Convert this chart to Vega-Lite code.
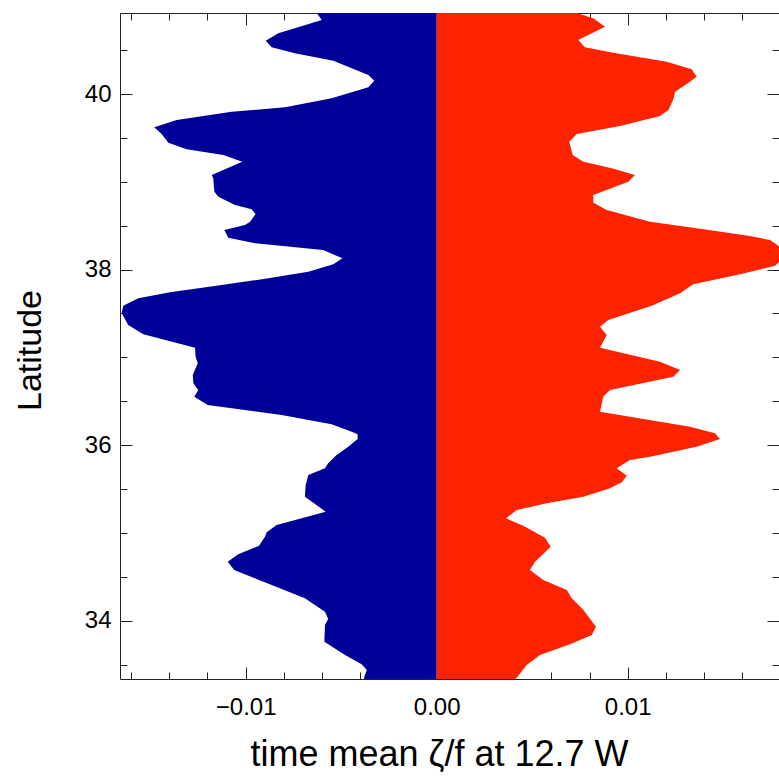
{
  "$schema": "https://vega.github.io/schema/vega-lite/v6.json",
  "autosize": "none",
  "width": 659,
  "height": 666,
  "padding": {"left": 120, "top": 13, "right": 0, "bottom": 99},
  "background": "white",
  "config": {
    "view": {"stroke": null},
    "axis": {
      "labelFont": "Liberation Sans",
      "labelFontSize": 24,
      "labelColor": "black",
      "titleFont": "Liberation Sans",
      "titleFontSize": 36,
      "titleFontWeight": "normal",
      "titleColor": "black",
      "domainColor": "#222222",
      "domainWidth": 1,
      "tickColor": "#222222",
      "tickWidth": 1,
      "grid": false,
      "zindex": 1
    }
  },
  "datasets": {
    "neg": [
      {"lat": 40.923, "v": -0.00628}, {"lat": 40.843, "v": -0.00602}, {"lat": 40.692, "v": -0.00829},
      {"lat": 40.607, "v": -0.00895}, {"lat": 40.532, "v": -0.00864}, {"lat": 40.464, "v": -0.00742},
      {"lat": 40.379, "v": -0.00541}, {"lat": 40.216, "v": -0.00358}, {"lat": 40.152, "v": -0.00327},
      {"lat": 40.076, "v": -0.00358}, {"lat": 39.951, "v": -0.0055}, {"lat": 39.848, "v": -0.00794},
      {"lat": 39.798, "v": -0.01073}, {"lat": 39.704, "v": -0.01361}, {"lat": 39.621, "v": -0.01479},
      {"lat": 39.544, "v": -0.0144}, {"lat": 39.445, "v": -0.01405}, {"lat": 39.37, "v": -0.01309},
      {"lat": 39.305, "v": -0.01117}, {"lat": 39.229, "v": -0.01018}, {"lat": 39.077, "v": -0.01178},
      {"lat": 39.04, "v": -0.0117}, {"lat": 38.887, "v": -0.01164}, {"lat": 38.83, "v": -0.01143},
      {"lat": 38.735, "v": -0.01056}, {"lat": 38.686, "v": -0.00969}, {"lat": 38.633, "v": -0.00948},
      {"lat": 38.545, "v": -0.00977}, {"lat": 38.508, "v": -0.01004}, {"lat": 38.451, "v": -0.01112},
      {"lat": 38.363, "v": -0.01091}, {"lat": 38.299, "v": -0.00951}, {"lat": 38.223, "v": -0.00594},
      {"lat": 38.128, "v": -0.00494}, {"lat": 38.06, "v": -0.00541}, {"lat": 37.976, "v": -0.00672},
      {"lat": 37.9, "v": -0.00882}, {"lat": 37.824, "v": -0.01126}, {"lat": 37.741, "v": -0.01396},
      {"lat": 37.673, "v": -0.01562}, {"lat": 37.588, "v": -0.01641}, {"lat": 37.502, "v": -0.01649},
      {"lat": 37.368, "v": -0.01615}, {"lat": 37.262, "v": -0.01536}, {"lat": 37.11, "v": -0.01265},
      {"lat": 37.007, "v": -0.01262}, {"lat": 36.932, "v": -0.01251}, {"lat": 36.799, "v": -0.01277},
      {"lat": 36.704, "v": -0.01274}, {"lat": 36.628, "v": -0.01248}, {"lat": 36.552, "v": -0.01269},
      {"lat": 36.457, "v": -0.01199}, {"lat": 36.343, "v": -0.00812}, {"lat": 36.237, "v": -0.0055},
      {"lat": 36.153, "v": -0.00445}, {"lat": 36.123, "v": -0.00414}, {"lat": 36.07, "v": -0.00414},
      {"lat": 35.982, "v": -0.00463}, {"lat": 35.887, "v": -0.00524}, {"lat": 35.793, "v": -0.00568},
      {"lat": 35.736, "v": -0.00585}, {"lat": 35.66, "v": -0.00672}, {"lat": 35.546, "v": -0.00686},
      {"lat": 35.412, "v": -0.0069}, {"lat": 35.242, "v": -0.00581}, {"lat": 35.09, "v": -0.00838},
      {"lat": 35.007, "v": -0.0089}, {"lat": 34.957, "v": -0.00899}, {"lat": 34.854, "v": -0.0093},
      {"lat": 34.756, "v": -0.01039}, {"lat": 34.672, "v": -0.01094}, {"lat": 34.577, "v": -0.0106},
      {"lat": 34.407, "v": -0.00864}, {"lat": 34.255, "v": -0.0069}, {"lat": 34.102, "v": -0.00585},
      {"lat": 34.019, "v": -0.00568}, {"lat": 33.951, "v": -0.00585}, {"lat": 33.761, "v": -0.00588},
      {"lat": 33.609, "v": -0.0048}, {"lat": 33.503, "v": -0.00393}, {"lat": 33.438, "v": -0.00366},
      {"lat": 33.362, "v": -0.00379}, {"lat": 33.336, "v": -0.0038}
    ],
    "pos": [
      {"lat": 40.923, "v": 0.00733}, {"lat": 40.862, "v": 0.0082}, {"lat": 40.767, "v": 0.00881},
      {"lat": 40.615, "v": 0.00741}, {"lat": 40.532, "v": 0.00776}, {"lat": 40.47, "v": 0.00925},
      {"lat": 40.368, "v": 0.01204}, {"lat": 40.281, "v": 0.01335}, {"lat": 40.197, "v": 0.01361},
      {"lat": 40.114, "v": 0.01309}, {"lat": 40.026, "v": 0.01248}, {"lat": 39.94, "v": 0.01239},
      {"lat": 39.818, "v": 0.01213}, {"lat": 39.749, "v": 0.01169}, {"lat": 39.635, "v": 0.0096},
      {"lat": 39.544, "v": 0.00733}, {"lat": 39.457, "v": 0.00694}, {"lat": 39.305, "v": 0.00712},
      {"lat": 39.229, "v": 0.00768}, {"lat": 39.154, "v": 0.00916}, {"lat": 39.077, "v": 0.01038},
      {"lat": 39.001, "v": 0.01003}, {"lat": 38.849, "v": 0.0082}, {"lat": 38.762, "v": 0.0082},
      {"lat": 38.679, "v": 0.0089}, {"lat": 38.545, "v": 0.01117}, {"lat": 38.47, "v": 0.01361},
      {"lat": 38.382, "v": 0.0164}, {"lat": 38.337, "v": 0.01745}, {"lat": 38.27, "v": 0.0179},
      {"lat": 38.17, "v": 0.0183}, {"lat": 38.08, "v": 0.0179}, {"lat": 38.044, "v": 0.01771},
      {"lat": 37.946, "v": 0.01588}, {"lat": 37.832, "v": 0.01343}, {"lat": 37.73, "v": 0.01274},
      {"lat": 37.588, "v": 0.01126}, {"lat": 37.425, "v": 0.00898}, {"lat": 37.349, "v": 0.00855},
      {"lat": 37.254, "v": 0.0089}, {"lat": 37.11, "v": 0.00855}, {"lat": 36.95, "v": 0.01169},
      {"lat": 36.856, "v": 0.01274}, {"lat": 36.779, "v": 0.01239}, {"lat": 36.628, "v": 0.00907},
      {"lat": 36.552, "v": 0.00872}, {"lat": 36.381, "v": 0.00855}, {"lat": 36.21, "v": 0.01326},
      {"lat": 36.135, "v": 0.01457}, {"lat": 36.07, "v": 0.01483}, {"lat": 35.982, "v": 0.01361},
      {"lat": 35.868, "v": 0.01117}, {"lat": 35.83, "v": 0.01012}, {"lat": 35.736, "v": 0.00942},
      {"lat": 35.652, "v": 0.00995}, {"lat": 35.576, "v": 0.00969}, {"lat": 35.508, "v": 0.00907},
      {"lat": 35.412, "v": 0.00768}, {"lat": 35.337, "v": 0.00576}, {"lat": 35.261, "v": 0.00419},
      {"lat": 35.166, "v": 0.00363}, {"lat": 35.082, "v": 0.00453}, {"lat": 34.945, "v": 0.00567},
      {"lat": 34.843, "v": 0.00597}, {"lat": 34.672, "v": 0.00515}, {"lat": 34.577, "v": 0.00488},
      {"lat": 34.463, "v": 0.00558}, {"lat": 34.349, "v": 0.00681}, {"lat": 34.255, "v": 0.00707},
      {"lat": 34.122, "v": 0.00768}, {"lat": 33.932, "v": 0.00834}, {"lat": 33.837, "v": 0.00812},
      {"lat": 33.731, "v": 0.00698}, {"lat": 33.609, "v": 0.00541}, {"lat": 33.495, "v": 0.00471},
      {"lat": 33.35, "v": 0.00419}, {"lat": 33.336, "v": 0.0041}
    ]
  },
  "resolve": {"axis": {"x": "independent", "y": "independent"}},
  "layer": [
    {
      "data": {"name": "neg"},
      "mark": {"type": "area", "orient": "horizontal", "color": "#000099", "clip": true},
      "encoding": {
        "x": {
          "field": "v", "type": "quantitative", "stack": null,
          "scale": {"domain": [-0.01658, 0.01792], "nice": false, "zero": false},
          "axis": {
            "orient": "bottom", "values": [-0.01, 0, 0.01], "format": ".2f",
            "ticks": false, "domain": true, "labelPadding": 16,
            "title": "time mean ζ/f at 12.7 W",
            "titleX": 319, "titleY": 86, "titleBaseline": "alphabetic", "titleAlign": "center"
          }
        },
        "y": {
          "field": "lat", "type": "quantitative",
          "scale": {"domain": [33.336, 40.923], "nice": false, "zero": false},
          "axis": {
            "orient": "left", "values": [34, 36, 38, 40], "format": "d",
            "ticks": false, "domain": true, "labelPadding": 9,
            "title": "Latitude", "titleFontSize": 34,
            "titleX": -80, "titleY": 337, "titleAngle": -90, "titleBaseline": "alphabetic", "titleAlign": "center"
          }
        }
      }
    },
    {
      "data": {"name": "pos"},
      "mark": {"type": "area", "orient": "horizontal", "color": "#ff2200", "clip": true},
      "encoding": {
        "x": {
          "field": "v", "type": "quantitative", "stack": null,
          "scale": {"domain": [-0.01658, 0.01792], "nice": false, "zero": false},
          "axis": {"orient": "bottom", "values": [-0.01, 0, 0.01], "tickSize": -12, "labels": false, "domain": false, "title": null}
        },
        "y": {
          "field": "lat", "type": "quantitative",
          "scale": {"domain": [33.336, 40.923], "nice": false, "zero": false},
          "axis": {"orient": "left", "values": [34, 36, 38, 40], "tickSize": -12, "labels": false, "domain": false, "title": null}
        }
      }
    },
    {
      "data": {"name": "pos"},
      "mark": {"type": "point", "opacity": 0},
      "encoding": {
        "x": {
          "field": "v", "type": "quantitative",
          "scale": {"domain": [-0.01658, 0.01792], "nice": false, "zero": false},
          "axis": {"orient": "bottom", "values": [-0.016, -0.014, -0.012, -0.008, -0.006, -0.004, -0.002, 0.002, 0.004, 0.006, 0.008, 0.012, 0.014, 0.016], "tickSize": -7, "labels": false, "domain": false, "title": null}
        },
        "y": {
          "field": "lat", "type": "quantitative",
          "scale": {"domain": [33.336, 40.923], "nice": false, "zero": false},
          "axis": {"orient": "left", "values": [33.5, 34.5, 35, 35.5, 36.5, 37, 37.5, 38.5, 39, 39.5, 40.5], "tickSize": -7, "labels": false, "domain": false, "title": null}
        }
      }
    },
    {
      "data": {"name": "pos"},
      "mark": {"type": "point", "opacity": 0},
      "encoding": {
        "x": {
          "field": "v", "type": "quantitative",
          "scale": {"domain": [-0.01658, 0.01792], "nice": false, "zero": false},
          "axis": {"orient": "top", "values": [-0.01, 0, 0.01], "tickSize": -12, "labels": false, "domain": true, "title": null}
        },
        "y": {
          "field": "lat", "type": "quantitative",
          "scale": {"domain": [33.336, 40.923], "nice": false, "zero": false},
          "axis": {"orient": "right", "values": [34, 36, 38, 40], "tickSize": -12, "labels": false, "domain": true, "title": null}
        }
      }
    },
    {
      "data": {"name": "pos"},
      "mark": {"type": "point", "opacity": 0},
      "encoding": {
        "x": {
          "field": "v", "type": "quantitative",
          "scale": {"domain": [-0.01658, 0.01792], "nice": false, "zero": false},
          "axis": {"orient": "top", "values": [-0.016, -0.014, -0.012, -0.008, -0.006, -0.004, -0.002, 0.002, 0.004, 0.006, 0.008, 0.012, 0.014, 0.016], "tickSize": -7, "labels": false, "domain": false, "title": null}
        },
        "y": {
          "field": "lat", "type": "quantitative",
          "scale": {"domain": [33.336, 40.923], "nice": false, "zero": false},
          "axis": {"orient": "right", "values": [33.5, 34.5, 35, 35.5, 36.5, 37, 37.5, 38.5, 39, 39.5, 40.5], "tickSize": -7, "labels": false, "domain": false, "title": null}
        }
      }
    }
  ]
}
